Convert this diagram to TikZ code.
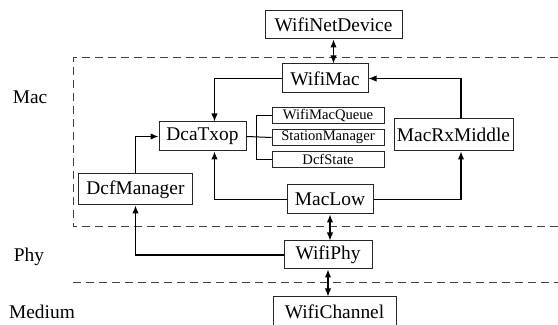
\documentclass[tikz,border=0pt]{standalone}
\usepackage{fontspec}
\setmainfont{Liberation Serif}
\usetikzlibrary{arrows.meta,positioning,calc}

\begin{document}
\begin{tikzpicture}[
      x=0.5pt, y=-0.5pt,
      blk/.style={rectangle, draw=black!85, line width=0.5pt, inner sep=0pt,
                  minimum height=14.5pt, font=\fontsize{9.7}{11}\selectfont},
      sblk/.style={blk, minimum width=56pt, minimum height=8.2pt,
                  font=\fontsize{7.3}{8}\selectfont},
      lyr/.style={font=\fontsize{9.7}{11}\selectfont},
      arr/.style={-{Latex[length=4pt,width=3.2pt]}, line width=0.55pt},
      darr/.style={{Latex[length=4pt,width=3.2pt]}-{Latex[length=4pt,width=3.2pt]}, line width=0.55pt},
      brd/.style={dash pattern=on 4pt off 2.5pt, line width=0.5pt, color=black!75}
    ]
      \useasboundingbox (0,0) rectangle (558,325);
      % layer borders
      \draw[brd] (558,58) -- (73,58) -- (73,227) -- (558,227);
      \draw[brd] (73,283) -- (558,283);
      \node[lyr] (maclbl) at (30,97) {Mac};
      \node[lyr] (phylbl) at (29,257) {Phy};
      \node[lyr] (medlbl) at (42,312) {Medium};

      \node[blk, minimum width=68.5pt, minimum height=14pt] (netdev) at (333.5,25) {WifiNetDevice};
      \node[blk, minimum width=43pt] (wmac) at (325,78.5) {WifiMac};
      \node[blk, minimum width=43.5pt] (dca) at (202.5,136.5) {DcaTxop};
      \node[blk, minimum width=59.5pt, minimum height=16pt] (rxmid) at (453.5,135) {MacRxMiddle};
      \node[blk, minimum width=57pt, minimum height=15.5pt] (dcfm) at (135.5,189.5) {DcfManager};
      \node[blk, minimum width=43pt] (maclow) at (330,199.5) {MacLow};
      \node[blk, minimum width=44pt, minimum height=14pt] (wphy) at (328,255) {WifiPhy};
      \node[blk, minimum width=61.5pt] (wchan) at (334.5,311.5) {WifiChannel};
      % DcaTxop members
      \node[sblk] (queue) at (328,115.5) {WifiMacQueue};
      \node[sblk, below=2.3pt of queue] (stmgr) {StationManager};
      \node[sblk, below=2.3pt of stmgr] (dcfst) {DcfState};

      \draw[line width=0.5pt] (dca.east) -- (stmgr.west);
      \draw[line width=0.5pt] (queue.west) -- ++(-7.5pt,0) coordinate (brtop)
            -- (brtop |- dcfst.west) -- (dcfst.west);

      \draw[darr] (netdev.south) -- (netdev.south |- wmac.north);
      \draw[darr] (maclow.south) -- (maclow.south |- wphy.north);
      \draw[darr] (wphy.south) -- (wphy.south |- wchan.north);
      \draw[arr] (wmac.west) -| ([xshift=6pt]dca.north);
      \draw[arr] (maclow.west) -| ([xshift=6pt]dca.south);
      \draw[arr] (maclow.east) -| ([xshift=3.75pt]rxmid.south);
      \draw[arr] ([xshift=3.75pt]rxmid.north) |- (wmac.east);
      \draw[arr] (dcfm.north) |- (dca.west);
      \draw[arr] (wphy.west) -| (dcfm.south);
    \end{tikzpicture}
\end{document}
